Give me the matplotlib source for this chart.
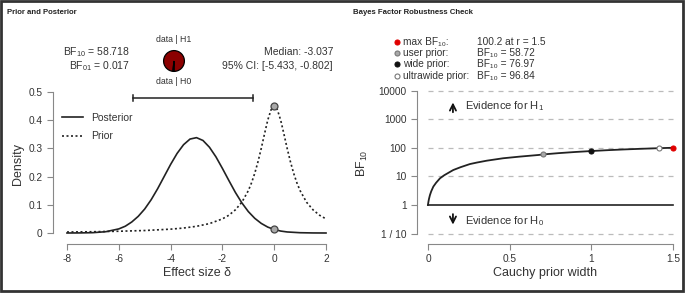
import numpy as np
import matplotlib
matplotlib.use('Agg')
import matplotlib.pyplot as plt
from matplotlib.patches import Rectangle
from matplotlib.lines import Line2D

plt.rcParams['font.family'] = ['Liberation Sans', 'DejaVu Sans']
plt.rcParams['mathtext.fontset'] = 'custom'
plt.rcParams['mathtext.rm'] = 'Liberation Sans'
plt.rcParams['mathtext.it'] = 'Liberation Sans:italic'
plt.rcParams['axes.unicode_minus'] = False

# --- Prior and posterior densities ---
post_x = [-8, -7.5, -7, -6.5, -6, -5.75, -5.5, -5.25, -5, -4.75, -4.5, -4.25,
          -4, -3.75, -3.5, -3.25, -3, -2.75, -2.5, -2.25, -2, -1.75, -1.5,
          -1.25, -1, -0.75, -0.5, -0.25, 0, 0.25, 0.5, 1, 1.5, 2]
post_y = [0.000, 0.0003, 0.0012, 0.0046, 0.0145, 0.024, 0.039, 0.059, 0.085,
          0.118, 0.157, 0.200, 0.243, 0.282, 0.313, 0.333, 0.338, 0.328,
          0.304, 0.270, 0.229, 0.186, 0.144, 0.107, 0.076, 0.052, 0.034,
          0.021, 0.0125, 0.0069, 0.0037, 0.001, 0.0002, 0.0]
prior_x = [-8, -7, -6, -5, -4, -3.5, -3, -2.5, -2, -1.75, -1.5, -1.25, -1,
           -0.875, -0.75, -0.625, -0.5, -0.375, -0.25, -0.125, 0, 0.125, 0.25,
           0.375, 0.5, 0.625, 0.75, 0.875, 1, 1.25, 1.5, 1.75, 2]
prior_y = [0.0035, 0.0045, 0.0062, 0.0088, 0.0136, 0.0176, 0.0237, 0.0333,
           0.050, 0.063, 0.082, 0.109, 0.150, 0.178, 0.212, 0.253, 0.300,
           0.351, 0.400, 0.436, 0.450, 0.436, 0.400, 0.351, 0.300, 0.253,
           0.212, 0.178, 0.150, 0.109, 0.082, 0.063, 0.050]
prior_at_0 = 0.45
post_at_0 = 0.0125
ci_low, ci_high = -5.433, -0.802
median = -3.037
bf10, bf01 = 58.718, 0.017

# --- Robustness check ---
r_vals = [0, 0.003, 0.006, 0.012, 0.02, 0.033, 0.05, 0.074, 0.1, 0.155, 0.2,
          0.257, 0.3, 0.36, 0.46, 0.56, 0.676, 0.707, 0.8, 0.9, 1.0, 1.1, 1.2,
          1.3, 1.414, 1.5]
bf_vals = [1, 1.3, 1.6, 2.2, 3.0, 4.4, 6.0, 8.6, 11, 16.7, 21, 27, 30.5, 35.4,
           43, 49, 56, 58.72, 65, 71.2, 76.97, 82.5, 87.5, 92, 96.84, 100.2]
pt_names = ['max BF₁₀:', 'user prior:', 'wide prior:', 'ultrawide prior:']
pt_vals = ['100.2 at r = 1.5', 'BF₁₀ = 58.72', 'BF₁₀ = 76.97', 'BF₁₀ = 96.84']
pt_r = [1.5, 0.707, 1.0, 1.414]
pt_bf = [100.2, 58.72, 76.97, 96.84]
pt_face = ['#e00000', '#a8a8a8', '#111111', 'white']
pt_edge = ['#e00000', '#777777', '#111111', '#777777']

W, H = 685, 295
fig = plt.figure(figsize=(W / 100, H / 100), dpi=100)


def px(x, y):
    return x / W, 1 - y / H


def box(l, t, r, b):
    return [l / W, 1 - b / H, (r - l) / W, (b - t) / H]


line_c = '#222222'
spine_c = '#888888'
text_c = '#333333'


def r_style(ax):
    for s in ['top', 'right']:
        ax.spines[s].set_visible(False)
    for s in ['left', 'bottom']:
        ax.spines[s].set_color(spine_c)
        ax.spines[s].set_linewidth(0.8)
    ax.tick_params(colors=spine_c, labelcolor=text_c, labelsize=7.3, length=4, width=0.8)
    ax.patch.set_alpha(0)


# ---------------- left panel ----------------
ax1 = fig.add_axes(box(53, 88, 330, 244))
ax1.plot(post_x, post_y, color=line_c, lw=1.2, label='Posterior')
ax1.plot(prior_x, prior_y, color=line_c, lw=1.2, ls=(0, (1.2, 1.5)), label='Prior')
ax1.plot([0, 0], [prior_at_0, post_at_0], ls='none', marker='o', ms=5,
         mfc='#a8a8a8', mec='#444444', mew=0.9, zorder=5)
ax1.set_xlim(-8.54, 2.154)
ax1.set_ylim(-0.039, 0.514)
ax1.spines['left'].set_bounds(0, 0.5)
ax1.spines['bottom'].set_bounds(-8, 2)
ax1.set_xticks([-8, -6, -4, -2, 0, 2])
ax1.set_yticks([0, 0.1, 0.2, 0.3, 0.4, 0.5])
ax1.set_yticklabels(['0', '0.1', '0.2', '0.3', '0.4', '0.5'])
r_style(ax1)

# credible interval bar
ci_y = 0.479
ax1.plot([ci_low, ci_high], [ci_y, ci_y], color=line_c, lw=1.1)
for xx in (ci_low, ci_high):
    ax1.plot([xx, xx], [ci_y - 0.01, ci_y + 0.01], color=line_c, lw=1.1)

ax1.legend(loc='upper left', bbox_to_anchor=px(62, 113), bbox_transform=fig.transFigure,
           frameon=False, fontsize=7.5, handlelength=2.0, handletextpad=0.75,
           labelspacing=0.8, labelcolor=text_c, borderaxespad=0, borderpad=0)

fig.text(*px(18, 164), 'Density', rotation=90, ha='center', va='center',
         fontsize=9, color=text_c)
fig.text(*px(197, 273), 'Effect size δ', ha='center', va='center',
         fontsize=9, color=text_c)
fig.text(*px(7, 13), 'Prior and Posterior', ha='left', va='center',
         fontsize=5.6, fontweight='bold', color='#222222')

fig.text(*px(130, 52), 'BF$\\mathregular{_{10}}$ = %.3f' % bf10, ha='right',
         va='center', fontsize=7.5, color=text_c)
fig.text(*px(130, 66), 'BF$\\mathregular{_{01}}$ = %.3f' % bf01, ha='right',
         va='center', fontsize=7.5, color=text_c)
fig.text(*px(333, 52), 'Median: %.3f' % median, ha='right', va='center',
         fontsize=7.5, color=text_c)
fig.text(*px(333, 66), '95%% CI: [%.3f, %.3f]' % (ci_low, ci_high), ha='right',
         va='center', fontsize=7.5, color=text_c)
fig.text(*px(174, 40), 'data | H1', ha='center', va='center', fontsize=6.3, color=text_c)
fig.text(*px(174, 81), 'data | H0', ha='center', va='center', fontsize=6.3, color=text_c)

pie_ax = fig.add_axes(box(161, 48, 187, 74))
pie_ax.pie([bf10 / (bf10 + 1), 1 / (bf10 + 1)], colors=['#8b0000', 'white'],
           startangle=-90, counterclock=True,
           wedgeprops=dict(edgecolor='black', linewidth=0.9))
pie_ax.set_aspect('equal')

# ---------------- right panel ----------------
ax2 = fig.add_axes(box(417, 88, 680, 244))
ax2.set_yscale('log')
ax2.set_xlim(-0.067, 1.543)
ax2.set_ylim(0.0433, 12300)
for g in [10000, 1000, 100, 10, 0.1]:
    ax2.plot([0, 1.5], [g, g], color='#bbbbbb', lw=0.9, ls=(0, (4, 4)), zorder=1)
ax2.plot([0, 1.5], [1, 1], color=line_c, lw=1.2, zorder=2)
ax2.plot(r_vals, bf_vals, color=line_c, lw=1.3, zorder=3)
for rr, bb, fc, ec in zip(pt_r, pt_bf, pt_face, pt_edge):
    ax2.plot(rr, bb, 'o', ms=3.6, mfc=fc, mec=ec, mew=0.8, zorder=5)
ax2.spines['left'].set_bounds(0.1, 10000)
ax2.spines['bottom'].set_bounds(0, 1.5)
ax2.set_xticks([0, 0.5, 1, 1.5])
ax2.set_xticklabels(['0', '0.5', '1', '1.5'])
ax2.set_yticks([0.1, 1, 10, 100, 1000, 10000])
ax2.set_yticklabels(['1 / 10', '1', '10', '100', '1000', '10000'])
ax2.yaxis.set_minor_locator(matplotlib.ticker.NullLocator())
r_style(ax2)

ax2.annotate('', xy=(0.153, 4800), xytext=(0.153, 1400),
             arrowprops=dict(arrowstyle='->', color='#111111', lw=1.3, mutation_scale=11))
ax2.text(0.227, 2900, 'Evidence for H$\\mathregular{_{1}}$', ha='left', va='center',
         fontsize=8, color=text_c)
ax2.annotate('', xy=(0.153, 0.165), xytext=(0.153, 0.6),
             arrowprops=dict(arrowstyle='->', color='#111111', lw=1.3, mutation_scale=11))
ax2.text(0.227, 0.28, 'Evidence for H$\\mathregular{_{0}}$', ha='left', va='center',
         fontsize=8, color=text_c)

fig.text(*px(362, 163), 'BF$\\mathregular{_{10}}$', rotation=90, ha='center',
         va='center', fontsize=9, color=text_c)
fig.text(*px(545, 273), 'Cauchy prior width', ha='center', va='center',
         fontsize=9, color=text_c)
fig.text(*px(353, 13), 'Bayes Factor Robustness Check', ha='left', va='center',
         fontsize=5.6, fontweight='bold', color='#222222')

rows_y = [42, 53, 64, 76]
for yy, name, val, fc, ec in zip(rows_y, pt_names, pt_vals, pt_face, pt_edge):
    fx, fy = px(397, yy)
    fig.add_artist(Line2D([fx], [fy], marker='o', ms=3.6, mfc=fc, mec=ec,
                          mew=0.8, ls='none'))
    fig.text(*px(403, yy), name, ha='left', va='center', fontsize=7.3, color=text_c)
    fig.text(*px(477, yy), val, ha='left', va='center', fontsize=7.3, color=text_c)

fig.patches.append(Rectangle((0.002, 0.012), 0.995, 0.985, transform=fig.transFigure,
                             fill=False, lw=2, ec='#333333'))

fig.savefig('out.png', dpi=100)
plt.close(fig)
